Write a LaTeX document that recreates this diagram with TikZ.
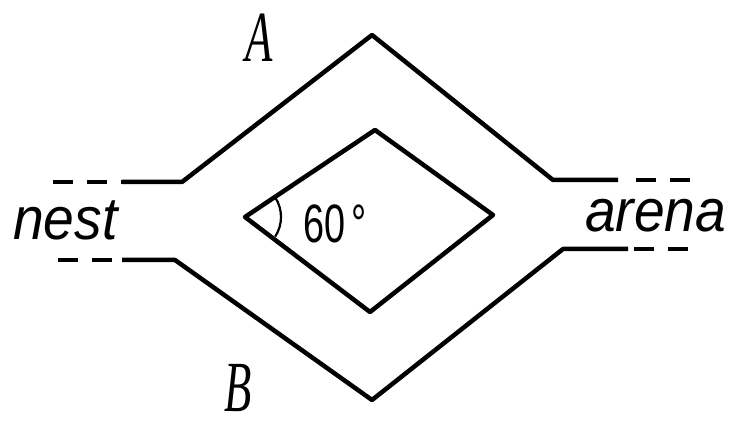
\documentclass[tikz,border=0pt]{standalone}
\usepackage{fontspec}
\newfontfamily\labelfont{Liberation Sans}
\newfontfamily\cornerfont{Liberation Serif}
\tikzset{
  wall/.style={line width=4.5pt, line join=round},
  opening/.style={line width=4pt, dash pattern=on 20pt off 14pt},
  place/.style={inner sep=0pt, xscale=0.92, font=\labelfont\itshape\fontsize{60}{60}\selectfont},
  corner/.style={inner sep=0pt, xscale=0.62, font=\cornerfont\itshape\fontsize{72}{72}\selectfont}
}
\begin{document}
\begin{tikzpicture}[x=1pt,y=-1pt]
\useasboundingbox (0,0) rectangle (738,427);
% upper bridge
\draw[opening] (53,182) -- (122,182);
\draw[wall] (122,182) -- (182,182) -- (372,35) -- (553,180) -- (618,180);
\draw[opening] (636,180) -- (690,180);
% lower bridge
\draw[opening] (58,260) -- (122,260);
\draw[wall] (122,260) -- (175,260) -- (372,400) -- (563,249) -- (628,249);
\draw[opening] (634,249) -- (693,249);
% inner rhombus
\draw[wall] (245,217) -- (375,130) -- (493,215) -- (370,312) -- cycle;
\draw[line width=2.2pt] (245,217) ++(-33:36) arc[start angle=-33, end angle=33, radius=36];

\node[place, anchor=base west] (nest) at (13,240) {nest};
\node[place, anchor=base west] (arena) at (585,232) {arena};
\node[inner sep=0pt, anchor=base west, xscale=0.7, font=\labelfont\fontsize{54}{54}\selectfont] (angle) at (303,243) {60\,°};
\node[corner, anchor=base] (A) at (259,62) {A};
\node[corner, anchor=base] (B) at (238,411) {B};
\end{tikzpicture}
\end{document}
